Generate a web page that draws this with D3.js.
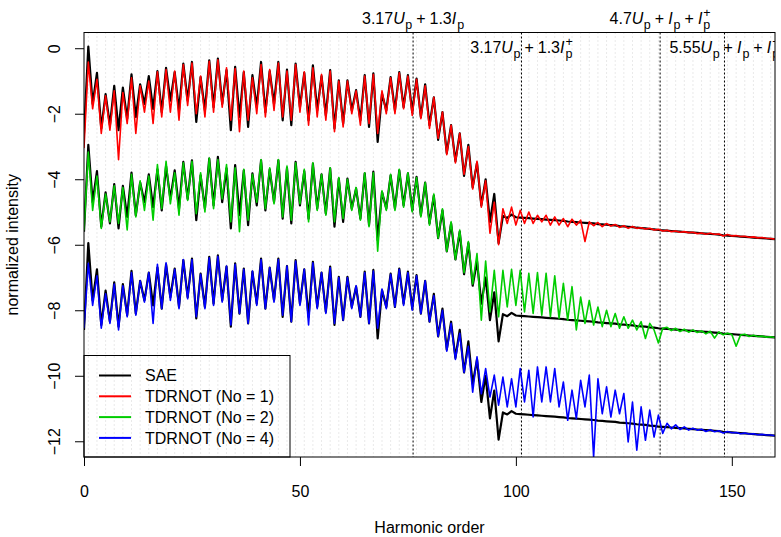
<!DOCTYPE html>
<html>
<head>
<meta charset="utf-8">
<script src="https://cdn.jsdelivr.net/npm/d3@7"></script>
<style>
  body { margin: 0; background: #fff; }
  svg { display: block; }
  text { font-family: "Liberation Sans", Arial, Helvetica, sans-serif; fill: #000; }
</style>
</head>
<body>
<svg id="chart" width="781" height="537"></svg>
<script>
// harmonic orders 0..160
const harmonics = d3.range(0, 161);

// SAE spectrum (log10 intensity, unshifted)
const sae = [
  -2.6, 0.05, -1.7, -0.75, -2.45, -1.4, -2.35, -1.15, -2.5, -1.2,
  -2.15, -0.8, -2.1, -1.1, -1.7, -0.85, -1.85, -0.7, -1.95, -0.6,
  -1.6, -0.73, -1.9, -0.47, -1.6, -0.42, -2.25, -0.88, -1.9, -0.37,
  -1.8, -0.32, -1.7, -0.67, -2.5, -0.57, -2.1, -0.73, -2.4, -0.82,
  -1.8, -0.42, -1.95, -0.7, -1.7, -0.42, -2.2, -0.65, -2.35, -0.47,
  -1.8, -0.75, -2.2, -0.52, -1.9, -0.85, -2.05, -0.67, -2.45, -0.98,
  -2.3, -0.98, -1.9, -1.28, -2.2, -0.82, -2.4, -0.77, -2.86, -1.39,
  -1.9, -0.88, -1.9, -0.73, -1.8, -0.82, -1.95, -0.93, -2.1, -1.1,
  -2.35, -1.5, -2.8, -1.95, -3.2, -2.35, -3.45, -2.6, -3.9, -2.95,
  -4.25, -3.5, -4.8, -4.0, -5.3, -4.45, -5.95, -5.12, -5.18, -5.08,
  -5.16, -5.17, -5.18, -5.19, -5.2, -5.21, -5.22, -5.23, -5.24, -5.25,
  -5.26, -5.27, -5.29, -5.3, -5.31, -5.32, -5.33, -5.34, -5.35, -5.37,
  -5.38, -5.39, -5.4, -5.41, -5.43, -5.44, -5.45, -5.46, -5.48, -5.49,
  -5.5, -5.52, -5.53, -5.55, -5.56, -5.57, -5.58, -5.59, -5.6, -5.61,
  -5.62, -5.63, -5.64, -5.65, -5.66, -5.67, -5.68, -5.69, -5.71, -5.72,
  -5.73, -5.74, -5.75, -5.76, -5.77, -5.78, -5.79, -5.8, -5.81, -5.82,
  -5.83
];

// TDRNOT (No = 1)
const tdrnot1 = [
  -3.05, -0.42, -1.85, -0.95, -2.6, -1.45, -2.5, -1.3, -3.4, -1.35,
  -2.3, -0.9, -2.6, -1.15, -1.95, -1.0, -2.3, -0.72, -2.1, -0.65,
  -1.95, -0.7, -2.2, -0.5, -1.75, -0.45, -2.0, -0.85, -2.1, -0.4,
  -1.95, -0.35, -1.8, -0.6, -2.2, -0.62, -2.55, -0.7, -2.2, -0.9,
  -2.0, -0.5, -2.1, -0.65, -1.9, -0.45, -2.1, -0.7, -2.2, -0.5,
  -1.95, -0.72, -2.35, -0.6, -2.1, -0.8, -2.2, -0.7, -2.55, -1.0,
  -2.4, -1.0, -2.0, -1.3, -2.35, -0.85, -2.3, -0.8, -2.6, -1.3,
  -2.0, -0.9, -2.0, -0.75, -1.85, -0.85, -2.05, -0.95, -2.15, -1.15,
  -2.45, -1.5, -2.75, -1.95, -3.25, -2.35, -3.5, -2.6, -3.85, -3.0,
  -4.3, -3.45, -4.85, -4.05, -5.65, -4.7, -6.0, -4.9, -5.35, -4.85,
  -5.4, -4.95, -5.35, -5.0, -5.35, -5.1, -5.3, -5.1, -5.4, -5.15,
  -5.4, -5.2, -5.45, -5.22, -5.4, -5.25, -5.9, -5.3, -5.42, -5.32,
  -5.45, -5.35, -5.43, -5.38, -5.47, -5.42, -5.5, -5.44, -5.5, -5.48,
  -5.52, -5.5, -5.55, -5.53, -5.58, -5.56, -5.6, -5.58, -5.62, -5.6,
  -5.63, -5.62, -5.66, -5.64, -5.68, -5.65, -5.68, -5.67, -5.73, -5.69,
  -5.73, -5.72, -5.75, -5.74, -5.77, -5.76, -5.79, -5.78, -5.8, -5.81,
  -5.83
];

// TDRNOT (No = 2)
const tdrnot2 = [
  -2.56, -0.17, -1.95, -0.9, -2.5, -1.45, -2.3, -1.2, -2.35, -1.25,
  -2.55, -0.85, -2.15, -1.05, -1.95, -0.9, -2.25, -0.55, -1.9, -0.45,
  -1.75, -0.8, -2.1, -0.5, -1.65, -0.45, -2.05, -0.8, -2.0, -0.35,
  -1.9, -0.4, -1.6, -0.55, -2.3, -0.65, -2.6, -0.7, -2.25, -0.85,
  -1.7, -0.4, -1.9, -0.65, -1.75, -0.4, -2.15, -0.6, -2.25, -0.5,
  -1.75, -0.7, -2.3, -0.5, -1.95, -0.85, -2.1, -0.65, -2.3, -0.95,
  -2.2, -1.0, -1.95, -1.25, -2.25, -0.8, -2.45, -0.8, -3.2, -1.35,
  -1.95, -0.85, -1.95, -0.7, -1.85, -0.8, -2.0, -0.95, -2.15, -1.1,
  -2.4, -1.45, -2.8, -1.9, -3.2, -2.3, -3.45, -2.55, -3.85, -2.9,
  -4.2, -3.27, -5.3, -3.5, -5.05, -3.78, -5.2, -3.78, -4.9, -3.75,
  -4.85, -3.78, -5.05, -3.87, -5.1, -3.85, -5.15, -3.87, -5.2, -3.95,
  -5.25, -4.18, -5.3, -4.28, -5.6, -4.6, -5.4, -4.7, -5.45, -4.9,
  -5.5, -5.0, -5.5, -5.1, -5.55, -5.2, -5.55, -5.3, -5.6, -5.35,
  -5.86, -5.4, -5.6, -6.0, -5.55, -5.52, -5.62, -5.55, -5.65, -5.58,
  -5.67, -5.6, -5.68, -5.63, -5.72, -5.64, -5.85, -5.66, -5.75, -5.7,
  -5.74, -6.1, -5.76, -5.73, -5.8, -5.76, -5.8, -5.79, -5.82, -5.81,
  -5.83
];

// TDRNOT (No = 4)
const tdrnot4 = [
  -2.55, -0.57, -1.85, -0.95, -2.55, -1.5, -2.4, -1.2, -2.6, -1.25,
  -2.2, -0.85, -2.15, -1.1, -1.75, -0.85, -2.4, -0.6, -1.95, -0.55,
  -1.7, -0.75, -1.95, -0.45, -1.65, -0.45, -2.2, -0.9, -1.95, -0.4,
  -1.85, -0.35, -1.75, -0.65, -2.45, -0.6, -2.1, -0.75, -2.4, -0.8,
  -1.85, -0.45, -1.95, -0.7, -1.75, -0.45, -2.15, -0.65, -2.35, -0.5,
  -1.85, -0.75, -2.45, -0.55, -1.95, -0.85, -2.1, -0.7, -2.4, -1.0,
  -2.3, -1.0, -1.95, -1.25, -2.2, -0.85, -2.4, -0.8, -2.55, -1.35,
  -1.95, -0.9, -1.9, -0.75, -1.85, -0.85, -2.0, -0.95, -2.1, -1.1,
  -2.35, -1.55, -2.8, -2.0, -3.25, -2.4, -3.5, -2.7, -3.9, -3.1,
  -4.5, -3.42, -4.55, -3.78, -4.65, -3.98, -4.9, -4.04, -4.95, -4.09,
  -4.95, -3.78, -4.8, -3.83, -5.26, -3.73, -4.8, -3.73, -4.8, -3.78,
  -4.95, -4.19, -5.36, -4.44, -5.31, -4.14, -4.95, -3.98, -6.48, -4.09,
  -5.16, -4.34, -5.26, -4.44, -5.16, -4.54, -6.02, -4.8, -6.27, -4.95,
  -5.97, -5.05, -5.87, -5.2, -5.76, -5.45, -5.62, -5.5, -5.64, -5.56,
  -5.66, -5.6, -5.66, -5.63, -5.7, -5.65, -5.71, -5.68, -5.75, -5.7,
  -5.74, -5.73, -5.77, -5.75, -5.78, -5.77, -5.8, -5.79, -5.81, -5.81,
  -5.83
];

// vertical offsets used to separate the three comparisons
const offsets = [0, -3, -6];
const seriesNames = ["SAE", "TDRNOT (No = 1)", "TDRNOT (No = 2)", "TDRNOT (No = 4)"];
const seriesColors = ["#000000", "#ff0000", "#00cd00", "#0000ff"];

// cutoff markers
const cutoffPos = [76.2, 101.3, 133.4, 148.3];
const xTicks = [0, 50, 100, 150];
const yTicks = [0, -2, -4, -6, -8, -10, -12];

const plotL = 84, plotR = 775, plotT = 32.5, plotB = 457;

const svg = d3.select("#chart");
const x = d3.scaleLinear().domain([0, 160]).range([plotL, plotR]);
const y = d3.scaleLinear().domain([-12.48, 0.48]).range([plotB, plotT]);

svg.append("defs").append("clipPath").attr("id", "plotclip")
  .append("rect").attr("x", plotL).attr("y", plotT)
  .attr("width", plotR - plotL).attr("height", plotB - plotT);

// light dotted grid at odd harmonics
svg.append("g")
  .selectAll("line")
  .data(d3.range(1, 160, 2))
  .join("line")
  .attr("x1", d => x(d)).attr("x2", d => x(d))
  .attr("y1", plotT).attr("y2", plotB)
  .attr("stroke", "#d3d3d3")
  .attr("stroke-width", 1)
  .attr("stroke-dasharray", "1,3");

// cutoff lines
svg.append("g")
  .selectAll("line")
  .data(cutoffPos)
  .join("line")
  .attr("x1", d => x(d)).attr("x2", d => x(d))
  .attr("y1", plotT).attr("y2", plotB)
  .attr("stroke", "#000")
  .attr("stroke-width", 1)
  .attr("stroke-dasharray", "2,2");

// curves
const line = d3.line().x((d, i) => x(harmonics[i])).y(d => y(d));
const curves = svg.append("g").attr("clip-path", "url(#plotclip)");
const pairs = [tdrnot1, tdrnot2, tdrnot4];
pairs.forEach((td, k) => {
  curves.append("path")
    .attr("d", line(sae.map(v => v + offsets[k])))
    .attr("fill", "none").attr("stroke", seriesColors[0])
    .attr("stroke-width", 2.2).attr("stroke-linejoin", "round");
  curves.append("path")
    .attr("d", line(td.map(v => v + offsets[k])))
    .attr("fill", "none").attr("stroke", seriesColors[k + 1])
    .attr("stroke-width", 1.6).attr("stroke-linejoin", "round");
});

// box
svg.append("rect")
  .attr("x", plotL).attr("y", plotT)
  .attr("width", plotR - plotL).attr("height", plotB - plotT)
  .attr("fill", "none").attr("stroke", "#000").attr("stroke-width", 1);

// axes
const xAxis = svg.append("g").attr("transform", `translate(0,${plotB})`)
  .call(d3.axisBottom(x).tickValues(xTicks).tickSize(9).tickFormat(d3.format("d")));
xAxis.select(".domain").remove();
xAxis.selectAll("text").attr("y", 40).attr("dy", null)
  .attr("font-size", 16).attr("font-family", null);

const yAxis = svg.append("g").attr("transform", `translate(${plotL},0)`)
  .call(d3.axisLeft(y).tickValues(yTicks).tickSize(9));
yAxis.select(".domain").remove();
yAxis.selectAll("text")
  .attr("x", null).attr("y", null).attr("dy", null)
  .attr("text-anchor", "middle")
  .attr("transform", "translate(-24,0) rotate(-90)")
  .attr("font-size", 16).attr("font-family", null);
svg.selectAll(".tick line").attr("stroke", "#000");

svg.append("text")
  .attr("x", (plotL + plotR) / 2).attr("y", 533)
  .attr("text-anchor", "middle").attr("font-size", 16)
  .text("Harmonic order");
svg.append("text")
  .attr("transform", `translate(18,${(plotT + plotB) / 2}) rotate(-90)`)
  .attr("text-anchor", "middle").attr("font-size", 16)
  .text("normalized intensity");

// formula labels (plotmath style)
function mathLabel(parent, cx, baseline, parts) {
  const g = parent.append("g");
  let pos = 0;
  parts.forEach(p => {
    if (p.t !== undefined) {
      pos += p.pl || 0;
      const t = g.append("text").attr("x", pos).attr("y", baseline)
        .attr("font-size", 16).text(p.t);
      if (p.it) t.attr("font-style", "italic");
      pos += t.node().getComputedTextLength() + (p.pr || 0);
    } else {
      let w = 0;
      if (p.sub) {
        const s = g.append("text").attr("x", pos).attr("y", baseline + 4.5)
          .attr("font-size", 12.5).text(p.sub);
        w = Math.max(w, s.node().getComputedTextLength());
      }
      if (p.sup) {
        const s = g.append("text").attr("x", pos).attr("y", baseline - 7.5)
          .attr("font-size", 12.5).text(p.sup);
        w = Math.max(w, s.node().getComputedTextLength());
      }
      pos += w;
    }
  });
  g.attr("transform", `translate(${cx - pos / 2},0)`);
  return g;
}

const plus = { t: "+", pl: 4, pr: 4 };
mathLabel(svg, x(cutoffPos[0]), 24, [
  { t: "3.17" }, { t: "U", it: true, pr: 0.5 }, { sub: "p" }, plus,
  { t: "1.3" }, { t: "I", it: true, pr: 1 }, { sub: "p" }
]);
mathLabel(svg, x(cutoffPos[2]), 24, [
  { t: "4.7" }, { t: "U", it: true, pr: 0.5 }, { sub: "p" }, plus,
  { t: "I", it: true, pr: 1 }, { sub: "p" }, plus,
  { t: "I", it: true, pr: 1 }, { sub: "p", sup: "+" }
]);
const inner = svg.append("g").attr("clip-path", "url(#plotclip)");
mathLabel(inner, x(cutoffPos[1]), 53, [
  { t: "3.17" }, { t: "U", it: true, pr: 0.5 }, { sub: "p" }, plus,
  { t: "1.3" }, { t: "I", it: true, pr: 1 }, { sub: "p", sup: "+" }
]);
mathLabel(inner, x(cutoffPos[3]), 53, [
  { t: "5.55" }, { t: "U", it: true, pr: 0.5 }, { sub: "p" }, plus,
  { t: "I", it: true, pr: 1 }, { sub: "p" }, plus,
  { t: "I", it: true, pr: 1 }, { sub: "p", sup: "+" }
]);

// legend
const lg = svg.append("g");
lg.append("rect")
  .attr("x", plotL).attr("y", 355.5).attr("width", 206).attr("height", plotB - 355.5)
  .attr("fill", "none").attr("stroke", "#000").attr("stroke-width", 1);
seriesNames.forEach((name, i) => {
  const yy = 375.5 + i * 20.8;
  lg.append("line").attr("x1", 99).attr("x2", 131).attr("y1", yy).attr("y2", yy)
    .attr("stroke", seriesColors[i]).attr("stroke-width", 2);
  lg.append("text").attr("x", 145).attr("y", yy + 5.8).attr("font-size", 16).text(name);
});
</script>
</body>
</html>
